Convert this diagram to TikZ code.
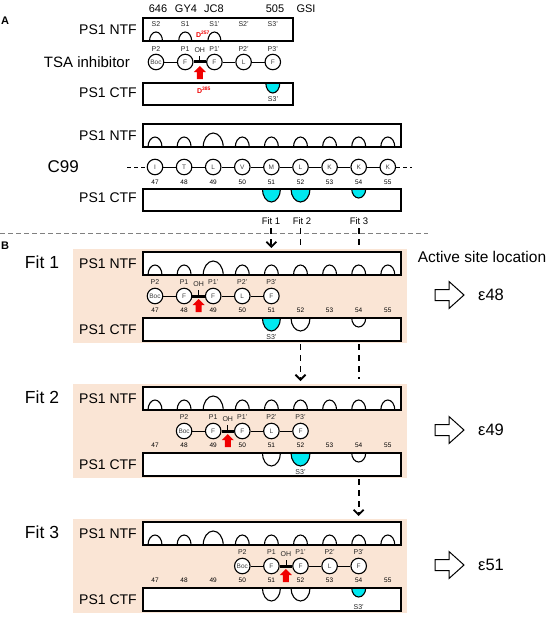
\documentclass[tikz,border=0pt]{standalone}
\usepackage{fontspec}
\setmainfont{Liberation Sans}
\usetikzlibrary{arrows.meta, calc}

\definecolor{panelbg}{RGB}{250,229,213}
\definecolor{pocketcyan}{RGB}{0,232,240}
\definecolor{siteRed}{RGB}{240,0,0}

\newcommand{\fs}[1]{\fontsize{#1}{#1}\selectfont}

\begin{document}
\begin{tikzpicture}[
        x=1pt, y=-1pt,
        every node/.style={inner sep=0pt, font=\fs{14}},
        % membrane boxes and subsite pockets
        membrane/.style={line width=1.4pt},
        pocketline/.style={line width=1.1pt},
        % inhibitor and substrate residues
        residue/.style={circle, draw, line width=1.1pt, fill=white, minimum size=15.5pt, inner sep=0pt, font=\fs{6.5}, text=black!75},
        sitelabel/.style={font=\fs{7}, text=black!85},
        numlabel/.style={font=\fs{6.5}},
        biglabel/.style={font=\fs{17.5}},
        aspartate/.style={font=\fs{7}\bfseries, text=siteRed},
        link/.style={line width=0.9pt},
        scissile/.style={line width=3pt},
        flowline/.style={line width=1.9pt, dash pattern=on 6pt off 5pt},
        flowarrow/.style={flowline, -{Straight Barb[length=5pt, width=10pt, line width=1.8pt]}},
    ]
    \useasboundingbox (0,0) rectangle (554,618);

    % ---------------- panel A ----------------
    \node[font=\fs{11}\bfseries] (labA) at (5,21) {A};

    % inhibitor names above the subsites
    \node[font=\fs{11}] (gsi646) at (158,9) {646};
    \node[font=\fs{11}] (gsiGY4) at (186,9) {GY4};
    \node[font=\fs{11}] (gsiJC8) at (214,9) {JC8};
    \node[font=\fs{11}] (gsi505) at (275,9) {505};
    \node[font=\fs{11}] (gsiGSI) at (306,9) {GSI};

    % PS1 NTF with S2, S1, S1' pockets
    \node[anchor=east] (ntfA) at (137,30) {PS1 NTF};
    \fill[white] (143,18) rectangle (293,41);
    \foreach \jj in {0,1,2} {
        \pgfmathsetmacro\cx{156+29.2*\jj}
        \draw[pocketline, fill=white] (\cx-6.5,41) arc[start angle=180, end angle=0, x radius=6.5pt, y radius=9pt];
    }
    \draw[membrane] (143,18) rectangle (293,41);
    \foreach \jj/\ss in {0/S2, 1/S1, 2/S1', 3/S2', 4/S3'} {
        \pgfmathsetmacro\cx{156+29.2*\jj}
        \node[sitelabel] (subA-\jj) at (\cx,24.5) {\ss};
    }
    \node[aspartate] (asp257) at (203,34) {D\textsuperscript{257}};

    % TSA inhibitor
    \node[anchor=east, font=\fs{15}] (tsalab) at (130,62) {TSA inhibitor};
    \foreach \jj/\aa/\pp in {0/Boc/P2, 1/F/P1, 2/F/P1', 3/L/P2', 4/F/P3'} {
        \pgfmathsetmacro\cx{156+29.2*\jj}
        \node[residue] (tsa-\jj) at (\cx,62) {\aa};
        \node[sitelabel] (tsap-\jj) at (\cx,49) {\pp};
    }
    \draw[link] (tsa-0) -- (tsa-1);
    \draw[link] (tsa-2) -- (tsa-3) -- (tsa-4);
    \draw[scissile] (tsa-1) -- (tsa-2);
    \coordinate (barA) at ($(tsa-1)!0.5!(tsa-2)$);
    \draw[link] (barA) -- ++(0,-6);
    \node[sitelabel] (ohA) at ($(barA)+(0,-11.5)$) {OH};
    \fill[siteRed] ($(barA)+(-3,17)$) -- ++(0,-7) -- ++(-3,0) -- ($(barA)+(0,4)$)
        -- ($(barA)+(6,10)$) -- ++(-3,0) -- ++(0,7) -- cycle;

    % PS1 CTF with S3' pocket
    \node[anchor=east] (ctfA) at (137,93) {PS1 CTF};
    \fill[white] (143,83) rectangle (293,105);
    \draw[pocketline, fill=pocketcyan] (265.8,83) arc[start angle=180, end angle=360, x radius=7pt, y radius=10pt];
    \draw[membrane] (143,83) rectangle (293,105);
    \node[sitelabel] (s3A) at (273,99) {S3'};
    \node[aspartate] (asp385) at (204,90) {D\textsuperscript{385}};

    % ---------------- C99 in the pocket row ----------------
    \node[anchor=east] (ntfC) at (137,135.5) {PS1 NTF};
    \fill[white] (143,124) rectangle (401,147);
    \foreach \n in {47,...,55} {
        \pgfmathsetmacro\cx{155+29.1*(\n-47)}
        \pgfmathsetmacro\rr{\n==49 ? 10 : 7}
        \pgfmathsetmacro\hh{\n==49 ? 14 : 10}
        \draw[pocketline, fill=white] (\cx-\rr,147) arc[start angle=180, end angle=0, x radius=\rr*1pt, y radius=\hh*1pt];
    }
    \draw[membrane] (143,124) rectangle (401,147);

    \node[anchor=east, font=\fs{17}] (c99lab) at (79,167) {C99};
    \foreach \n/\aa in {47/I, 48/T, 49/L, 50/V, 51/M, 52/L, 53/K, 54/K, 55/K} {
        \pgfmathsetmacro\cx{155+29.1*(\n-47)}
        \node[residue] (c99-\n) at (\cx,167) {\aa};
        \node[numlabel] (c99n-\n) at (\cx,182) {\n};
    }
    \foreach \n in {47,...,54} {
        \pgfmathtruncatemacro\m{\n+1}
        \draw[link] (c99-\n) -- (c99-\m);
    }
    \coordinate (c99left) at (127,167);
    \coordinate (c99right) at (412,167);
    \draw[link, dash pattern=on 4pt off 3pt] (c99left) -- (c99-47);
    \draw[link, dash pattern=on 4pt off 3pt] (c99-55) -- (c99right);

    \node[anchor=east] (ctfC) at (137,198) {PS1 CTF};
    \fill[white] (143,189) rectangle (401,211);
    \foreach \n/\rr/\hh in {51/9/13, 52/9.5/13, 54/7/9} {
        \pgfmathsetmacro\cx{155+29.1*(\n-47)}
        \draw[pocketline, fill=pocketcyan] (\cx-\rr,189) arc[start angle=180, end angle=360, x radius=\rr*1pt, y radius=\hh*1pt];
    }
    \draw[membrane] (143,189) rectangle (401,211);

    % fits and the dividing line
    \node[font=\fs{9.5}] (fitlab1) at (271,221) {Fit 1};
    \node[font=\fs{9.5}] (fitlab2) at (302,221) {Fit 2};
    \node[font=\fs{9.5}] (fitlab3) at (359,221) {Fit 3};
    \coordinate (divL) at (0,233);
    \coordinate (divR) at (428,233);
    \draw[gray, line width=1pt, dash pattern=on 5pt off 3pt] (divL) -- (divR);

    % ---------------- panel B ----------------
    \node[font=\fs{11}\bfseries] (labB) at (5,246) {B};
    \node[font=\fs{15.5}] (actlab) at (482,257) {Active site location};

    \foreach \k/\py/\first/\hot/\site in {1/249/47/51/48, 2/384/48/52/49, 3/519/50/54/51} {
        \fill[panelbg] (73,\py) rectangle (407,\py+94);
        \node[biglabel] (fit\k) at (42,\py+13) {Fit \k};

        % PS1 NTF
        \node[anchor=east] (ntf\k) at (137,\py+14.5) {PS1 NTF};
        \fill[white] (143,\py+3) rectangle (401,\py+26);
        \foreach \n in {47,...,55} {
            \pgfmathsetmacro\cx{155+29.1*(\n-47)}
            \pgfmathsetmacro\rr{\n==49 ? 10 : 7}
            \pgfmathsetmacro\hh{\n==49 ? 14 : 10}
            \draw[pocketline, fill=white] (\cx-\rr,\py+26) arc[start angle=180, end angle=0, x radius=\rr*1pt, y radius=\hh*1pt];
        }
        \draw[membrane] (143,\py+3) rectangle (401,\py+26);

        % bound inhibitor
        \foreach \jj/\aa/\pp in {0/Boc/P2, 1/F/P1, 2/F/P1', 3/L/P2', 4/F/P3'} {
            \pgfmathsetmacro\cx{155+29.1*(\first-47+\jj)}
            \node[residue] (inh\k-\jj) at (\cx,\py+47) {\aa};
            \node[sitelabel] (inhp\k-\jj) at (\cx,\py+33.5) {\pp};
        }
        \draw[link] (inh\k-0) -- (inh\k-1);
        \draw[link] (inh\k-2) -- (inh\k-3) -- (inh\k-4);
        \draw[scissile] (inh\k-1) -- (inh\k-2);
        \coordinate (bar\k) at ($(inh\k-1)!0.5!(inh\k-2)$);
        \draw[link] (bar\k) -- ++(0,-6);
        \node[sitelabel] (oh\k) at ($(bar\k)+(0,-11.5)$) {OH};
        \fill[siteRed] ($(bar\k)+(-3,16)$) -- ++(0,-7) -- ++(-3,0) -- ($(bar\k)+(0,3)$)
            -- ($(bar\k)+(6,9)$) -- ++(-3,0) -- ++(0,7) -- cycle;
        \foreach \n in {47,...,55} {
            \pgfmathsetmacro\cx{155+29.1*(\n-47)}
            \node[numlabel] (num\k-\n) at (\cx,\py+61.5) {\n};
        }

        % PS1 CTF
        \node[anchor=east] (ctf\k) at (137,\py+80.5) {PS1 CTF};
        \fill[white] (143,\py+69) rectangle (401,\py+92);
        \foreach \n/\rr/\hh in {51/9/13, 52/9.5/13, 54/7/9} {
            \pgfmathsetmacro\cx{155+29.1*(\n-47)}
            \ifnum\n=\hot\relax \def\pc{pocketcyan}\else \def\pc{white}\fi
            \draw[pocketline, fill=\pc] (\cx-\rr,\py+69) arc[start angle=180, end angle=360, x radius=\rr*1pt, y radius=\hh*1pt];
        }
        \draw[membrane] (143,\py+69) rectangle (401,\py+92);
        \pgfmathsetmacro\hx{155+29.1*(\hot-47)}
        \node[sitelabel] (s3\k) at (\hx,\py+88) {S3'};

        % active site location
        \draw[line width=1pt] (435,\py+40.5) -- (449,\py+40.5) -- (449,\py+32.5) -- (464,\py+46)
            -- (449,\py+59.5) -- (449,\py+51.5) -- (435,\py+51.5) -- cycle;
        \node[font=\fs{16.5}] (eps\k) at (491,\py+46) {ε\site};
    }

    % moves between the fits
    \coordinate (f1top) at (271.4,228);
    \coordinate (f1end) at (271.4,248);
    \coordinate (f2top) at (300.5,228);
    \coordinate (f2mid) at (300.5,247);
    \coordinate (f2low) at (300.5,344);
    \coordinate (f2end) at (300.5,381);
    \coordinate (f3top) at (358.7,228);
    \coordinate (f3mid) at (358.7,247);
    \coordinate (f3low) at (358.7,344);
    \coordinate (f3hold) at (358.7,379);
    \coordinate (f3next) at (358.7,479);
    \coordinate (f3end) at (358.7,516);
    \draw[flowarrow] (f1top) -- (f1end);
    \draw[flowline] (f2top) -- (f2mid);
    \draw[flowarrow] (f2low) -- (f2end);
    \draw[flowline] (f3top) -- (f3mid);
    \draw[flowline] (f3low) -- (f3hold);
    \draw[flowarrow] (f3next) -- (f3end);
\end{tikzpicture}
\end{document}
